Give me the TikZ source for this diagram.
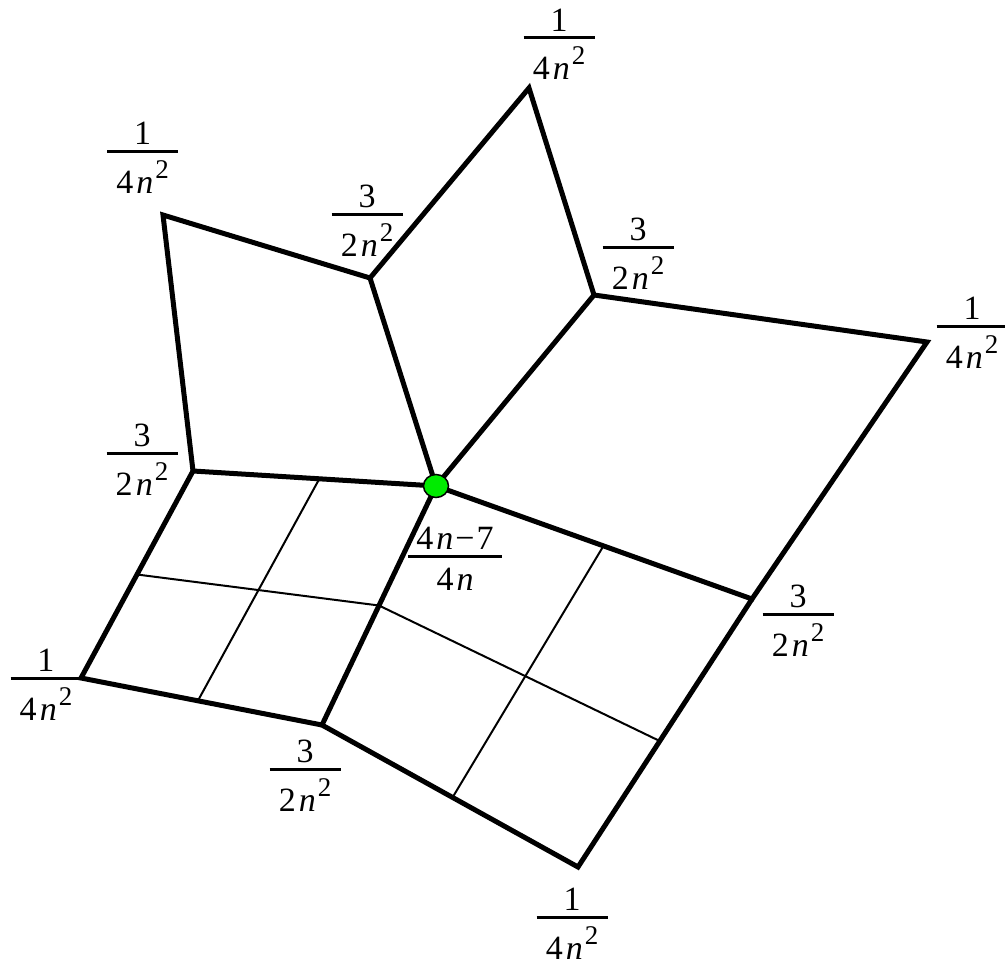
\documentclass[tikz,border=0pt]{standalone}
\usepackage{fontspec}
\setmainfont{Liberation Serif}
\usetikzlibrary{calc,shapes.geometric}
\definecolor{dotgreen}{RGB}{0,235,0}
\newcommand{\sqd}{\raisebox{15pt}{\fontsize{27}{27}\selectfont 2}}
\newcommand{\fq}[2]{\vbox{\offinterlineskip\halign{\hfil##\hfil\cr #1\cr\noalign{\kern5pt\hrule height 3pt\kern7.5pt}\rule{0pt}{33pt}\makebox[71pt]{#2}\cr}}}
\newcommand{\fmid}{\vbox{\offinterlineskip\halign{\hfil##\hfil\cr 4\kern3pt\textit{n}\kern2pt−\kern2pt7\cr\noalign{\kern5.5pt\hrule height 3pt\kern9.5pt}\rule{0pt}{22.5pt}\makebox[94pt]{4\kern3pt\textit{n}}\cr}}}
\newcommand{\qa}{\fq{1}{4\kern3pt\textit{n}\kern2pt\sqd}}
\newcommand{\qb}{\fq{3}{2\kern3pt\textit{n}\kern2pt\sqd}}
\tikzset{
  thickedge/.style={line width=5pt, line join=miter},
  thinedge/.style={line width=2pt},
  lab/.style={anchor=base, inner sep=0pt, font=\fontsize{34}{40}\selectfont},
  centredot/.style={ellipse, draw=black, line width=1.5pt, fill=dotgreen, minimum width=25pt, minimum height=23pt, inner sep=0pt}
}
\begin{document}
\begin{tikzpicture}[x=1pt,y=-1pt]
\useasboundingbox (0,0) rectangle (1005,966);
\coordinate (C) at (436,486);
\coordinate (P1) at (370,278);
\coordinate (P2) at (529,88);
\coordinate (P3) at (594,295);
\coordinate (P4) at (163,215);
\coordinate (P5) at (193,471);
\coordinate (P6) at (927,342);
\coordinate (P7) at (752,599);
\coordinate (P8) at (578,867);
\coordinate (P9) at (322,725);
\coordinate (P10) at (81,678);
% thin subdivision lines
\draw[thinedge] ($(C)!0.48!(P5)$) -- ($(P10)!0.485!(P9)$);
\draw[thinedge] ($(P5)!0.5!(P10)$) -- ($(C)!0.5!(P9)$);
\draw[thinedge] ($(C)!0.53!(P7)$) -- ($(P9)!0.51!(P8)$);
\draw[thinedge] ($(C)!0.5!(P9)$) -- ($(P7)!0.53!(P8)$);
% thick edges
\draw[thickedge] (C) -- (P1) -- (P2) -- (P3) -- cycle;
\draw[thickedge] (P1) -- (P4) -- (P5) -- (C);
\draw[thickedge] (P3) -- (P6) -- (P7) -- (C);
\draw[thickedge] (P7) -- (P8) -- (P9) -- (C);
\draw[thickedge] (P5) -- (P10) -- (P9);
\node[centredot] (dot) at (C) {};
% labels
\node[lab] (l1) at (559,80) {\qa};
\node[lab] (l2) at (142.5,193) {\qa};
\node[lab] (l3) at (367,256) {\qb};
\node[lab] (l4) at (638,289) {\qb};
\node[lab] (l5) at (972,368) {\qa};
\node[lab] (l6) at (142,495) {\qb};
\node[lab] (l7) at (455,590) {\fmid};
\node[lab] (l8) at (798,656) {\qb};
\node[lab] (l9) at (46,720) {\qa};
\node[lab] (l10) at (305,811) {\qb};
\node[lab] (l11) at (572,959) {\qa};
\end{tikzpicture}
\end{document}
